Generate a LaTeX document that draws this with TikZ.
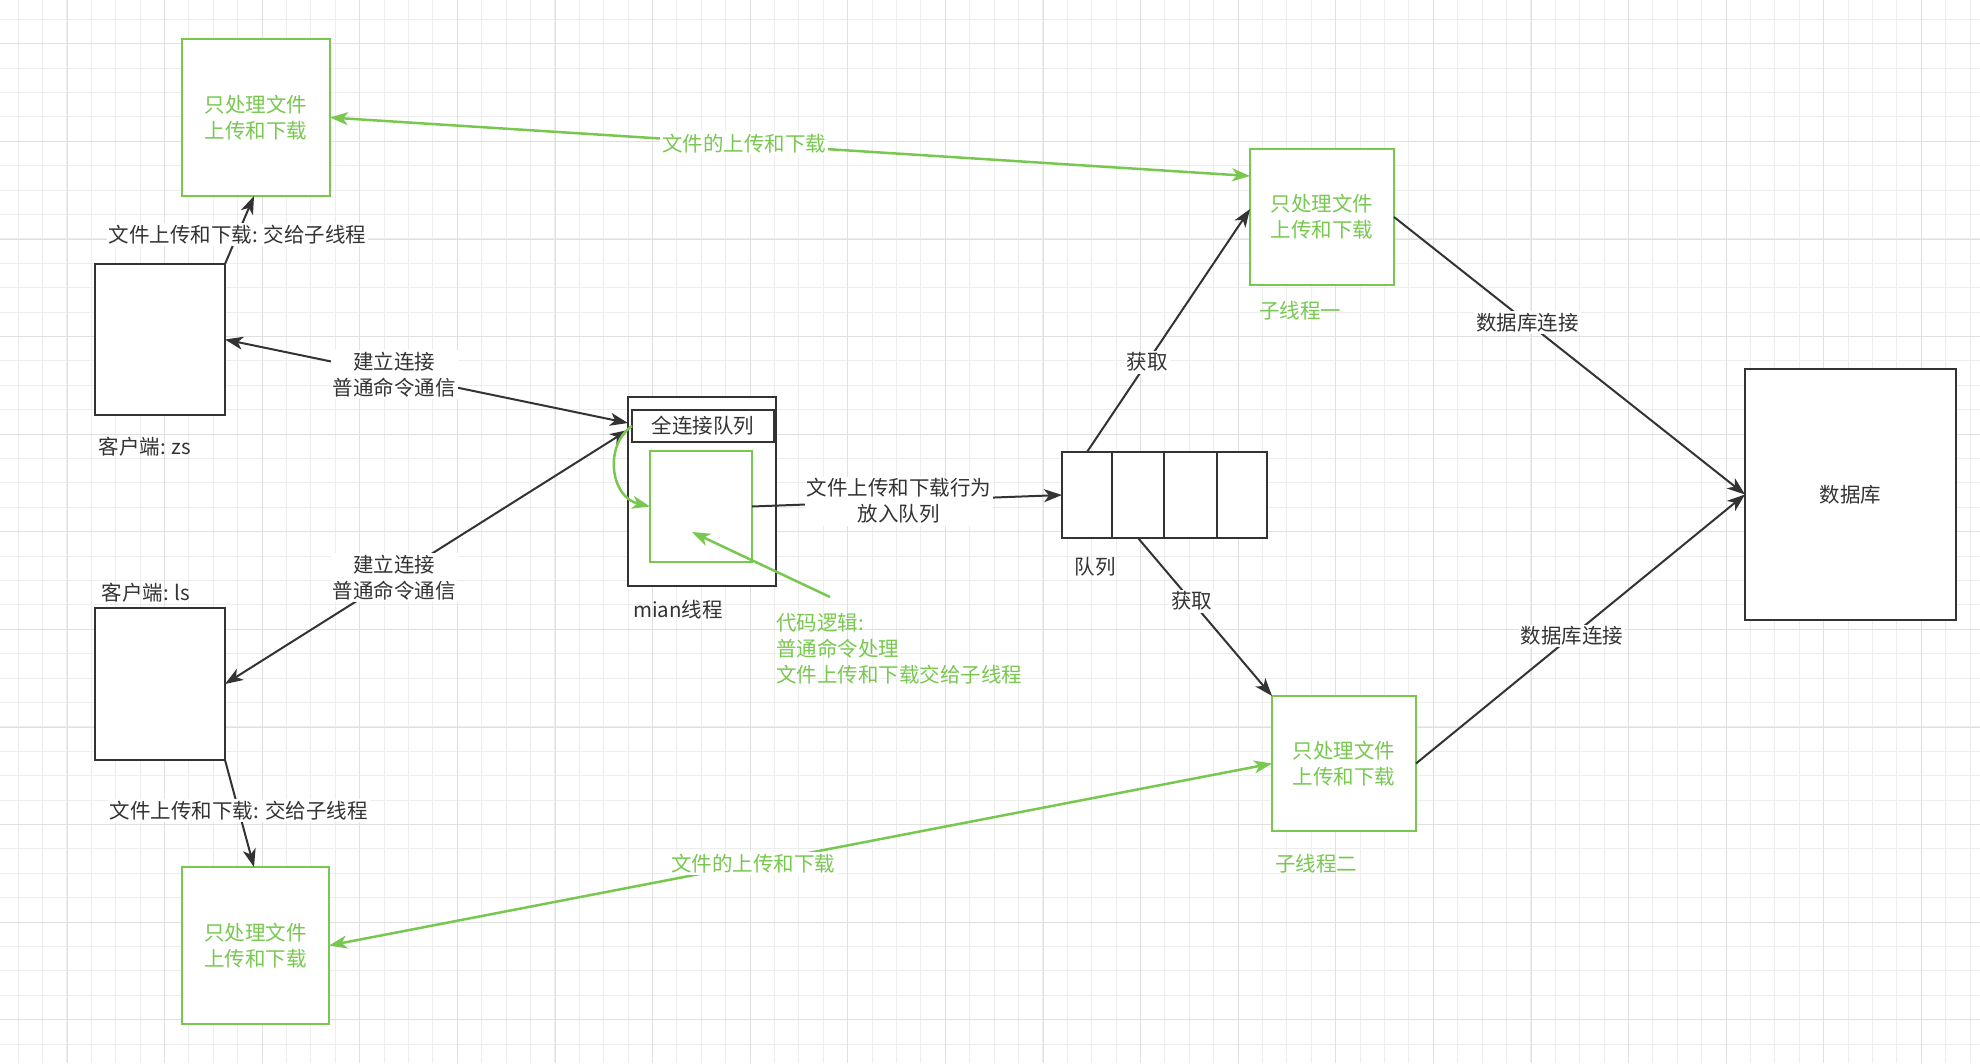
\documentclass[tikz,border=0pt]{standalone}
\usepackage{fontspec}
\setmainfont{Noto Sans CJK SC}
\usetikzlibrary{arrows.meta,calc}
\definecolor{ink}{HTML}{333333}
\definecolor{leaf}{HTML}{78C850}
\definecolor{gridminor}{HTML}{EDEDED}
\definecolor{gridmajor}{HTML}{E0E0E0}

\begin{document}
\begin{tikzpicture}[x=1pt,y=-1pt,
  >={Stealth[length=18pt,width=13pt,inset=5pt]},
  every node/.style={font=\fontsize{20.5}{26}\selectfont, text=ink},
  box/.style 2 args={draw=ink, line width=2.5pt, fill=white, inner sep=0pt,
    outer sep=0pt, minimum width=#1, minimum height=#2},
  leafbox/.style 2 args={draw=leaf, line width=2.5pt, fill=white, inner sep=0pt,
    outer sep=0pt, minimum width=#1, minimum height=#2, text=leaf, align=center},
  link/.style={draw=ink, line width=2pt},
  leaflink/.style={draw=leaf, line width=2.5pt},
  lab/.style={fill=white, inner sep=2pt, align=center},
  leaflab/.style={fill=white, inner sep=2pt, align=center, text=leaf},
  caption/.style={inner sep=0pt, align=center},
]
\useasboundingbox (0,0) rectangle (1980,1063);
\fill[white] (0,0) rectangle (1980,1063);

% background grid, lines snapped to whole units so they stay crisp
\foreach \i in {0,...,81} {
  \pgfmathsetmacro{\gx}{round(17.7+24.4*\i)+0.5}
  \draw[gridminor, line width=1pt] (\gx,0) -- (\gx,1063);
}
\foreach \i in {0,...,43} {
  \pgfmathsetmacro{\gy}{round(18.9+24.4*\i)+0.5}
  \draw[gridminor, line width=1pt] (0,\gy) -- (1980,\gy);
}
\foreach \i in {0,...,20} {
  \pgfmathsetmacro{\gx}{round(66.5+97.6*\i)+0.5}
  \draw[gridmajor, line width=1pt] (\gx,0) -- (\gx,1063);
}
\foreach \i in {0,...,10} {
  \pgfmathsetmacro{\gy}{round(43.3+97.6*\i)+0.5}
  \draw[gridmajor, line width=1pt] (0,\gy) -- (1980,\gy);
}

% clients
\node[box={130pt}{151pt}] (zs) at (160,339.5) {};
\node[caption] (zslabel) at (145,447) {客户端: zs};
\node[box={130pt}{152pt}] (ls) at (160,684) {};
\node[caption] (lslabel) at (146,593) {客户端: ls};

% file workers beside the clients
\node[leafbox={148pt}{157pt}] (ga) at (256,117.5) {只处理文件\\上传和下载};
\node[leafbox={147pt}{157pt}] (gb) at (255.5,945.5) {只处理文件\\上传和下载};

% main thread
\node[box={148pt}{189pt}] (mainbox) at (702,491.5) {};
\node[box={142pt}{32pt}, line width=2pt] (header) at (703,426) {全连接队列};
\node[leafbox={102pt}{111pt}] (inner) at (701,506.5) {};
\node[caption] (mainlabel) at (678,610) {mian线程};

% queue
\node[box={50pt}{86pt}] (q1) at (1087,495) {};
\node[box={52pt}{86pt}] (q2) at (1138,495) {};
\node[box={53pt}{86pt}] (q3) at (1190.5,495) {};
\node[box={50pt}{86pt}] (q4) at (1242,495) {};
\node[caption] (qlabel) at (1095,567) {队列};

% sub threads
\node[leafbox={144pt}{136pt}] (sub1) at (1322,217) {只处理文件\\上传和下载};
\node[caption, text=leaf] (sub1label) at (1300,311) {子线程一};
\node[leafbox={144pt}{135pt}] (sub2) at (1344,763.5) {只处理文件\\上传和下载};
\node[caption, text=leaf] (sub2label) at (1316,864) {子线程二};

% database
\node[box={211pt}{251pt}] (db) at (1850.5,494.5) {数据库};

% code note
\node[caption, anchor=north west, align=left, text=leaf] (note) at (776,613)
  {代码逻辑:\\普通命令处理\\文件上传和下载交给子线程};
\coordinate (notetail) at (830,597);
\coordinate (notehead) at ($(inner.center)+(-9,25.5)$);

% connectors
\draw[link,<->] (zs.east) -- node[lab,pos=0.42] {建立连接\\普通命令通信}
  ($(mainbox.west|-header.west)+(0,-3)$);
\draw[link,<->] (ls.east) -- node[lab,pos=0.42] {建立连接\\普通命令通信}
  ($(mainbox.west|-header.west)+(0,4)$);
\draw[link,->] (zs.north east) -- node[lab,pos=0.43] {文件上传和下载: 交给子线程}
  ($(ga.south)+(-2,0)$);
\draw[link,->] (ls.south east) -- node[lab,pos=0.47] {文件上传和下载: 交给子线程}
  ($(gb.north)+(-1.5,0)$);

\draw[leaflink,<->] (ga.east) -- node[leaflab,pos=0.45] {文件的上传和下载}
  ($(sub1.west)+(0,-41)$);
\draw[leaflink,<->] (gb.east) -- node[leaflab,pos=0.45] {文件的上传和下载}
  (sub2.west);

\draw[leaflink,->] (header.west) .. controls (604,445) and (610,497) .. (inner.west);
\draw[leaflink,->] (notetail) -- (notehead);

\draw[link,->] (inner.east) -- node[lab,pos=0.474] {文件上传和下载行为\\放入队列} (q1.west);
\draw[link,->] (q1.north) -- node[lab,pos=0.37] {获取} ($(sub1.west)+(0,-8)$);
\draw[link,->] (q2.south) -- node[lab,pos=0.4] {获取} (sub2.north west);
\draw[link,->] (sub1.east) -- node[lab,pos=0.38] {数据库连接} (db.west);
\draw[link,->] (sub2.east) -- node[lab,pos=0.474] {数据库连接} (db.west);
\end{tikzpicture}
\end{document}
